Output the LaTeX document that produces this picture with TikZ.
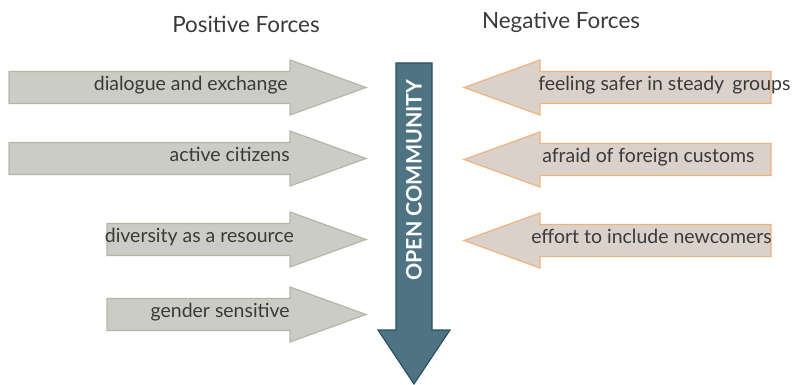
\documentclass[tikz,border=0pt]{standalone}
\usepackage{fontspec}
\setmainfont{Lato}
\usetikzlibrary{positioning}
\definecolor{posfill}{HTML}{CACCC5}
\definecolor{posedge}{HTML}{B3B8A6}
\definecolor{negfill}{HTML}{D9D1CA}
\definecolor{negedge}{HTML}{F2B27C}
\definecolor{commfill}{HTML}{4E7383}
\definecolor{commedge}{HTML}{2B5163}
\definecolor{txtgray}{HTML}{3A3A3A}
\tikzset{
  posarrow/.style={draw=posedge,fill=posfill,line width=0.9pt},
  negarrow/.style={draw=negedge,fill=negfill,line width=0.9pt},
  commarrow/.style={draw=commedge,fill=commfill,line width=0.9pt},
  forcelabel/.style={font=\fontsize{14.6}{17}\selectfont,text=txtgray,inner sep=0pt},
  headlabel/.style={font=\fontsize{16.8}{19}\selectfont,text=txtgray,inner sep=0pt},
  commlabel/.style={font=\fontsize{16}{19}\selectfont\bfseries,text=white,rotate=90,inner sep=0pt},
}

\begin{document}
\begin{tikzpicture}[x=0.75pt,y=-0.75pt]
  \useasboundingbox (0,0) rectangle (796,385);
  % column titles
  \node[headlabel] (tpos) at (246,24) {Positive Forces};
  \node[headlabel] (tneg) at (561,22) {Negative Forces};
  % central arrow
  \draw[commarrow] (396,63) -- (432,63) -- (432,330) -- (450,330) -- (414,384)
    -- (378,330) -- (396,330) -- cycle;
  \node[commlabel] (comm) at (414,180) {OPEN COMMUNITY};
  % positive forces
  \foreach \c/\t/\e/\name/\txt in {87.5/9/288/pA/dialogue and exchange,
      158.5/9/290/pB/active citizens,
      239.5/107/294/pC/diversity as a resource,
      314.5/107/290/pD/gender sensitive}{
    \draw[posarrow] (\t,\c-16) -- (290,\c-16) -- (290,\c-27.5) -- (366,\c)
      -- (290,\c+27.5) -- (290,\c+16) -- (\t,\c+16) -- cycle;
    \node[forcelabel,anchor=mid east] (\name) at (\e,\c) {\txt};
  }
  % negative forces
  \foreach \c/\s/\name/\txt in {87.5/538/nA/feeling safer in steady\, groups,
      159.5/542/nB/afraid of foreign customs,
      240.5/531/nC/effort to include newcomers}{
    \draw[negarrow] (771,\c-16) -- (540,\c-16) -- (540,\c-27.5) -- (464,\c)
      -- (540,\c+27.5) -- (540,\c+16) -- (771,\c+16) -- cycle;
    \node[forcelabel,anchor=mid west] (\name) at (\s,\c) {\txt};
  }
\end{tikzpicture}
\end{document}
